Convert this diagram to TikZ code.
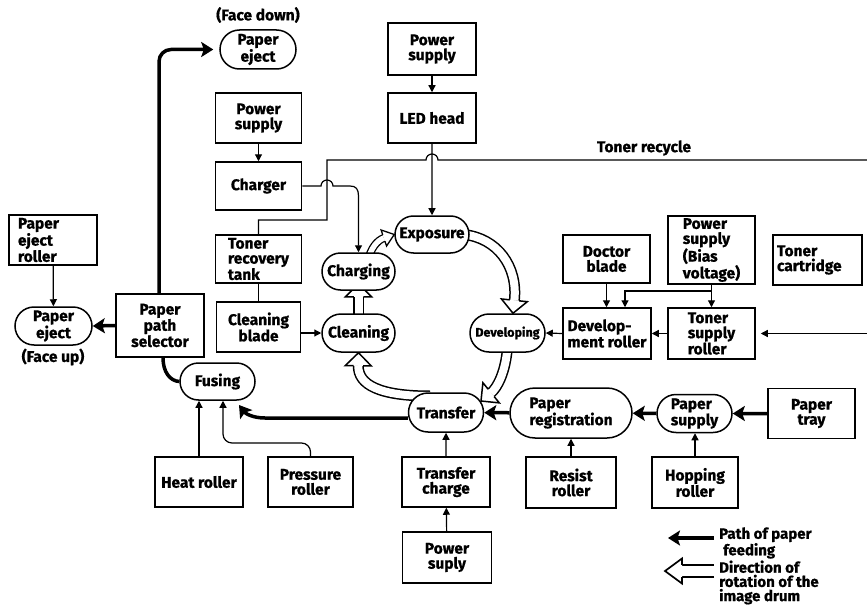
\documentclass[tikz,border=0pt]{standalone}
\usepackage{fontspec}
\setmainfont{Fira Sans}[BoldFeatures={FakeBold=0.8}]
\usetikzlibrary{arrows.meta,shapes.misc,decorations.markings}
\pgfdeclarelayer{background}
\pgfsetlayers{background,main}
\newcommand{\lab}{\fontsize{15.5}{15}\selectfont\bfseries}
\newcommand{\labs}{\fontsize{12.5}{13}\selectfont\bfseries}
\newcommand{\labl}{\fontsize{15}{14.2}\selectfont\bfseries}
% #1 outer shaft width, #2 inner (white) width, #3 border, #4 head half width, #5 head length, #6 shaft path, #7 straight end piece for the head
\newcommand{\hollowarr}[7]{%
  \draw[line width=#1, shorten >=#5] #6;
  \draw[line width=#2, white, shorten >=#5] #6;
  \path[decoration={markings, mark=at position 1 with {%
     \fill[white] (0pt,0pt) -- (-#5,#4) -- (-#5,-#4) -- cycle;
     \draw[black, line width=#3, line join=miter, miter limit=6]
       (-#5,{(#1+#2)/4}) -- (-#5,#4) -- (0pt,0pt) -- (-#5,-#4) -- (-#5,{-(#1+#2)/4});}}, decorate] #7;}
\begin{document}
\begin{tikzpicture}[x=1pt,y=-1pt,
  box/.style={draw, line width=1.5pt, fill=white, minimum width=87pt, minimum height=50pt, inner sep=1pt, align=center, font=\lab},
  stad/.style={draw, line width=1.5pt, fill=white, rounded rectangle, minimum width=75pt, minimum height=38pt, inner sep=0pt, align=center, font=\lab},
  tarrow/.style={line width=1.2pt, -{Triangle[length=7pt,width=7pt]}},
  tline/.style={line width=1.2pt},
  parrow/.style={line width=3.5pt, -{Stealth[length=12pt,width=15pt,inset=2.5pt]}},
  pline/.style={line width=3.5pt},
  txt/.style={font=\lab, inner sep=0pt}]
\useasboundingbox (0,0) rectangle (867,607);

% ---------- nodes ----------
\node[txt] (facedown) at (258,15) {(Face down)};
\node[stad, minimum width=76pt, minimum height=39pt] (ejectT) at (258,49.5) {Paper\\eject};
\node[box, minimum width=88pt, minimum height=52pt] (psTop) at (432,49) {Power\\supply};
\node[box, minimum width=88pt] (led) at (432,118) {LED head};
\node[box, minimum width=86pt] (psLeft) at (258.5,118) {Power\\supply};
\node[box, minimum width=86pt, minimum height=48pt] (charger) at (258.5,186) {Charger};
\node[box, minimum width=86pt, minimum height=48pt, align=left] (tank) at (258.5,259) {Toner\\recovery\\tank};
\node[box, minimum width=84pt] (blade) at (258.5,327) {Cleaning\\blade};
\node[box, minimum width=88pt, text width=70pt, align=left] (ejRoller) at (53,240) {Paper\\eject\\roller};
\node[stad, minimum width=77pt] (ejectL) at (53.5,326) {Paper\\eject};
\node[txt] (faceup) at (53,357) {(Face up)};
\node[box, minimum width=88pt, minimum height=63pt] (selector) at (160,325.5) {Paper\\path\\selector};
\node[stad, minimum height=37pt] (fusing) at (217.5,381.5) {Fusing};
\node[box, minimum width=88pt] (heat) at (199,482) {Heat roller};
\node[box, minimum width=85pt] (press) at (310.5,482) {Pressure\\roller};
\node[box, minimum width=88pt] (tcharge) at (446,482) {Transfer\\charge};
\node[box, minimum width=89pt, minimum height=51pt] (psBot) at (447,557.5) {Power\\suply};
\node[box, minimum width=90pt, minimum height=51pt] (resist) at (571,482.5) {Resist\\roller};
\node[box, minimum width=86pt, minimum height=51pt] (hopping) at (695,482.5) {Hopping\\roller};
\node[stad, minimum width=73pt, minimum height=37pt] (charging) at (358.5,271.5) {Charging};
\node[stad, minimum width=73pt] (cleaning) at (358.5,333) {Cleaning};
\node[stad, minimum width=74pt, minimum height=37pt] (exposure) at (432,234.5) {Exposure};
\node[stad, font=\labs] (developing) at (507.5,333) {Developing};
\node[stad, minimum height=39pt] (transfer) at (446,412.5) {Transfer};
\node[stad, minimum width=122pt, minimum height=50pt, align=left] (preg) at (571,413) {Paper\\registration};
\node[stad, align=left] (psupply) at (694.5,413.5) {Paper\\supply};
\node[box, minimum width=87pt] (tray) at (811.5,413.5) {Paper\\tray};
\node[box, minimum width=87pt, minimum height=48pt] (doctor) at (606.5,259) {Doctor\\blade};
\node[box, minimum width=87pt, minimum height=68pt, align=left] (bias) at (711.5,250) {Power\\supply\\(Bias\\voltage)};
\node[box, minimum width=89pt, text width=81pt, align=left] (cartridge) at (817.5,260) {Toner\\cartridge};
\node[box, minimum width=88pt, minimum height=51pt, align=left] (devroller) at (607,333.5) {Develop-\\ment roller};
\node[box, minimum width=87pt, minimum height=51pt, align=left] (tsroller) at (711.5,333.5) {Toner\\supply\\roller};
\node[txt] (recycle) at (644,148) {Toner recycle};
\node[txt, font=\labl, anchor=west, align=left] (legT1) at (719,543) {Path of paper\\\hspace*{4pt}feeding};
\node[txt, font=\labl, anchor=west, align=left] (legT2) at (719,582.5) {Direction of\\rotation of the\\image drum};

\coordinate (recR) at (867,160);
\coordinate (cartR) at (867,333.5);
\coordinate (fuseIn) at (239,405);
\coordinate (legA1) at (714,538);
\coordinate (legA2) at (668,538);
\coordinate (legB1) at (714,571);
\coordinate (legB2) at (665,571);

% ---------- drum rotation (hollow arrows) ----------
\begin{pgfonlayer}{background}
\hollowarr{11pt}{8pt}{1.5pt}{13pt}{13pt}
  {([xshift=-6pt]exposure.east) .. controls (497,238) and (518,266) .. ([xshift=5.5pt]developing.north)}
  {(518,266) -- ([xshift=5.5pt]developing.north)}
\hollowarr{11pt}{8pt}{1.5pt}{13pt}{13pt}
  {([yshift=7pt]developing.south) .. controls (506,372) and (497,388) .. (481,401)}
  {(497,388) -- (481,401)}
\hollowarr{11pt}{8pt}{1.5pt}{13pt}{13pt}
  {(430,396) .. controls (380,396) and (358,385) .. (cleaning.south)}
  {(358,385) -- (cleaning.south)}
\hollowarr{11pt}{8pt}{1.5pt}{13pt}{13pt}
  {(cleaning.center) -- ([yshift=7pt]charging.south)}
  {(cleaning.center) -- ([yshift=7pt]charging.south)}
\hollowarr{8pt}{5.4pt}{1.3pt}{8.5pt}{11pt}
  {(368,262) .. controls (370,248) and (378,240) .. (exposure.west)}
  {(378,240) -- (exposure.west)}
\end{pgfonlayer}

% ---------- thin connectors ----------
\draw[tarrow] (psTop) -- (led);
\draw[tarrow] (led) -- (exposure);
\draw[tarrow] (psLeft) -- (charger);
\draw[tarrow] (charger.east) -- (321,186) arc[start angle=180, end angle=0, radius=6pt]
  -- (350,186) .. controls (356,186) and (358.5,189) .. (358.5,196) -- (charging.north);
\draw[tline] (tank.north) -- (258.5,220) -- (327,220) -- (327,160) -- (426,160)
  arc[start angle=180, end angle=0, radius=6pt] -- (recR);
\draw[tline] (tank) -- (blade);
\draw[tarrow] (blade.east |- cleaning) -- (cleaning.west);
\draw[tarrow] (devroller.west) -- (developing.east);
\draw[tarrow] (tsroller.west) -- (devroller.east);
\draw[tarrow] (doctor.south) -- (doctor.south |- devroller.north);
\draw[tarrow] (bias.south) -- (bias.south |- tsroller.north);
\draw[tarrow] (bias.south |- 0,291) -| ([xshift=18pt]devroller.north);
\draw[tarrow] (cartR) -- ([xshift=5pt]tsroller.east);
\draw[tarrow] (ejRoller) -- (ejectL);
\draw[tarrow] (heat.north) -- (heat.north |- fusing.south);
\draw[tarrow, rounded corners=9pt] (press.north) |- (223,443) -- ([xshift=5.5pt]fusing.south);
\draw[tarrow] (tcharge) -- (transfer);
\draw[tarrow] (psBot) -- (tcharge);
\draw[tarrow] (resist.north) -- (resist.north |- preg.south);
\draw[tarrow] (hopping.north) -- (hopping.north |- psupply.south);

% ---------- paper path ----------
\draw[parrow] (tray) -- (psupply);
\draw[parrow] (psupply) -- (preg);
\draw[parrow] (preg) -- (transfer);
\draw[parrow] ([yshift=-5.5pt]transfer.west) -- (265,418) .. controls (252,418) and (245,413) .. (fuseIn);
\draw[pline] (fusing.west) .. controls (170,381) and (163,372) .. ([xshift=3pt]selector.south);
\draw[parrow] (selector.west) -- (ejectL.east);
\draw[parrow, rounded corners=12pt, shorten >=6pt] ([xshift=-1pt]selector.north) |- (ejectT.west);

% ---------- legend ----------
\draw[parrow] (legA1) -- (legA2);
\hollowarr{14pt}{10.6pt}{1.7pt}{12.5pt}{17pt}{(legB1) -- (legB2)}{(legB1) -- (legB2)}
\end{tikzpicture}
\end{document}
